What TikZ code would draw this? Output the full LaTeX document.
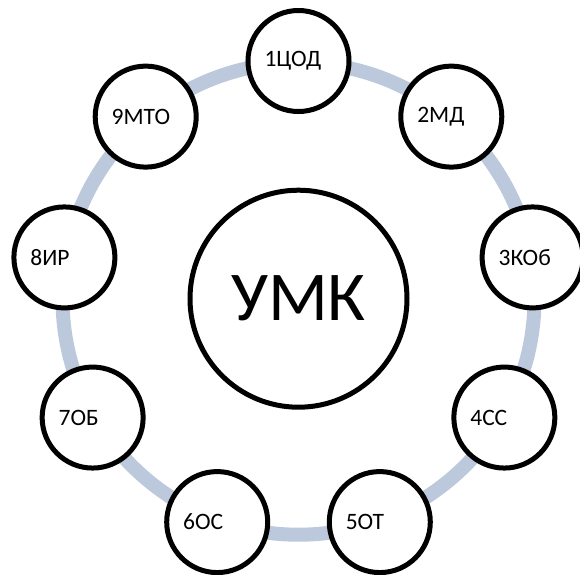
\documentclass[tikz,border=0pt]{standalone}
\usepackage{fontspec}
\setmainfont{Carlito}
\usepackage{tikz}
\definecolor{ringcol}{RGB}{188,200,220}

\begin{document}
\begin{tikzpicture}[x=1pt,y=1pt,
  main node/.style={circle,draw,fill=white,line width=5pt,minimum size=101pt,
    inner sep=0pt,text width=68pt,align=left,font=\fontsize{23.5}{28}\selectfont},
  hub node/.style={circle,draw,fill=white,line width=5pt,minimum size=217pt,
    inner sep=0pt,font=\fontsize{70}{80}\selectfont}]

\useasboundingbox (-298.5,-275.3) rectangle (281.5,298.7);

\coordinate (o) at (0,0);
\draw[ringcol,line width=14pt] (o) circle (236);

\node[hub node] (umk) at (o) {УМК};

  \foreach \a/\t in {1/1ЦОД,2/2МД,3/3КОб,4/4СС,5/5ОТ,6/6ОС,7/7ОБ,8/8ИР,9/9МТО}{
  \node[main node] (\a) at ({90-(\a-1)*40}: 237.7) {\t};
}

\end{tikzpicture}
\end{document}
